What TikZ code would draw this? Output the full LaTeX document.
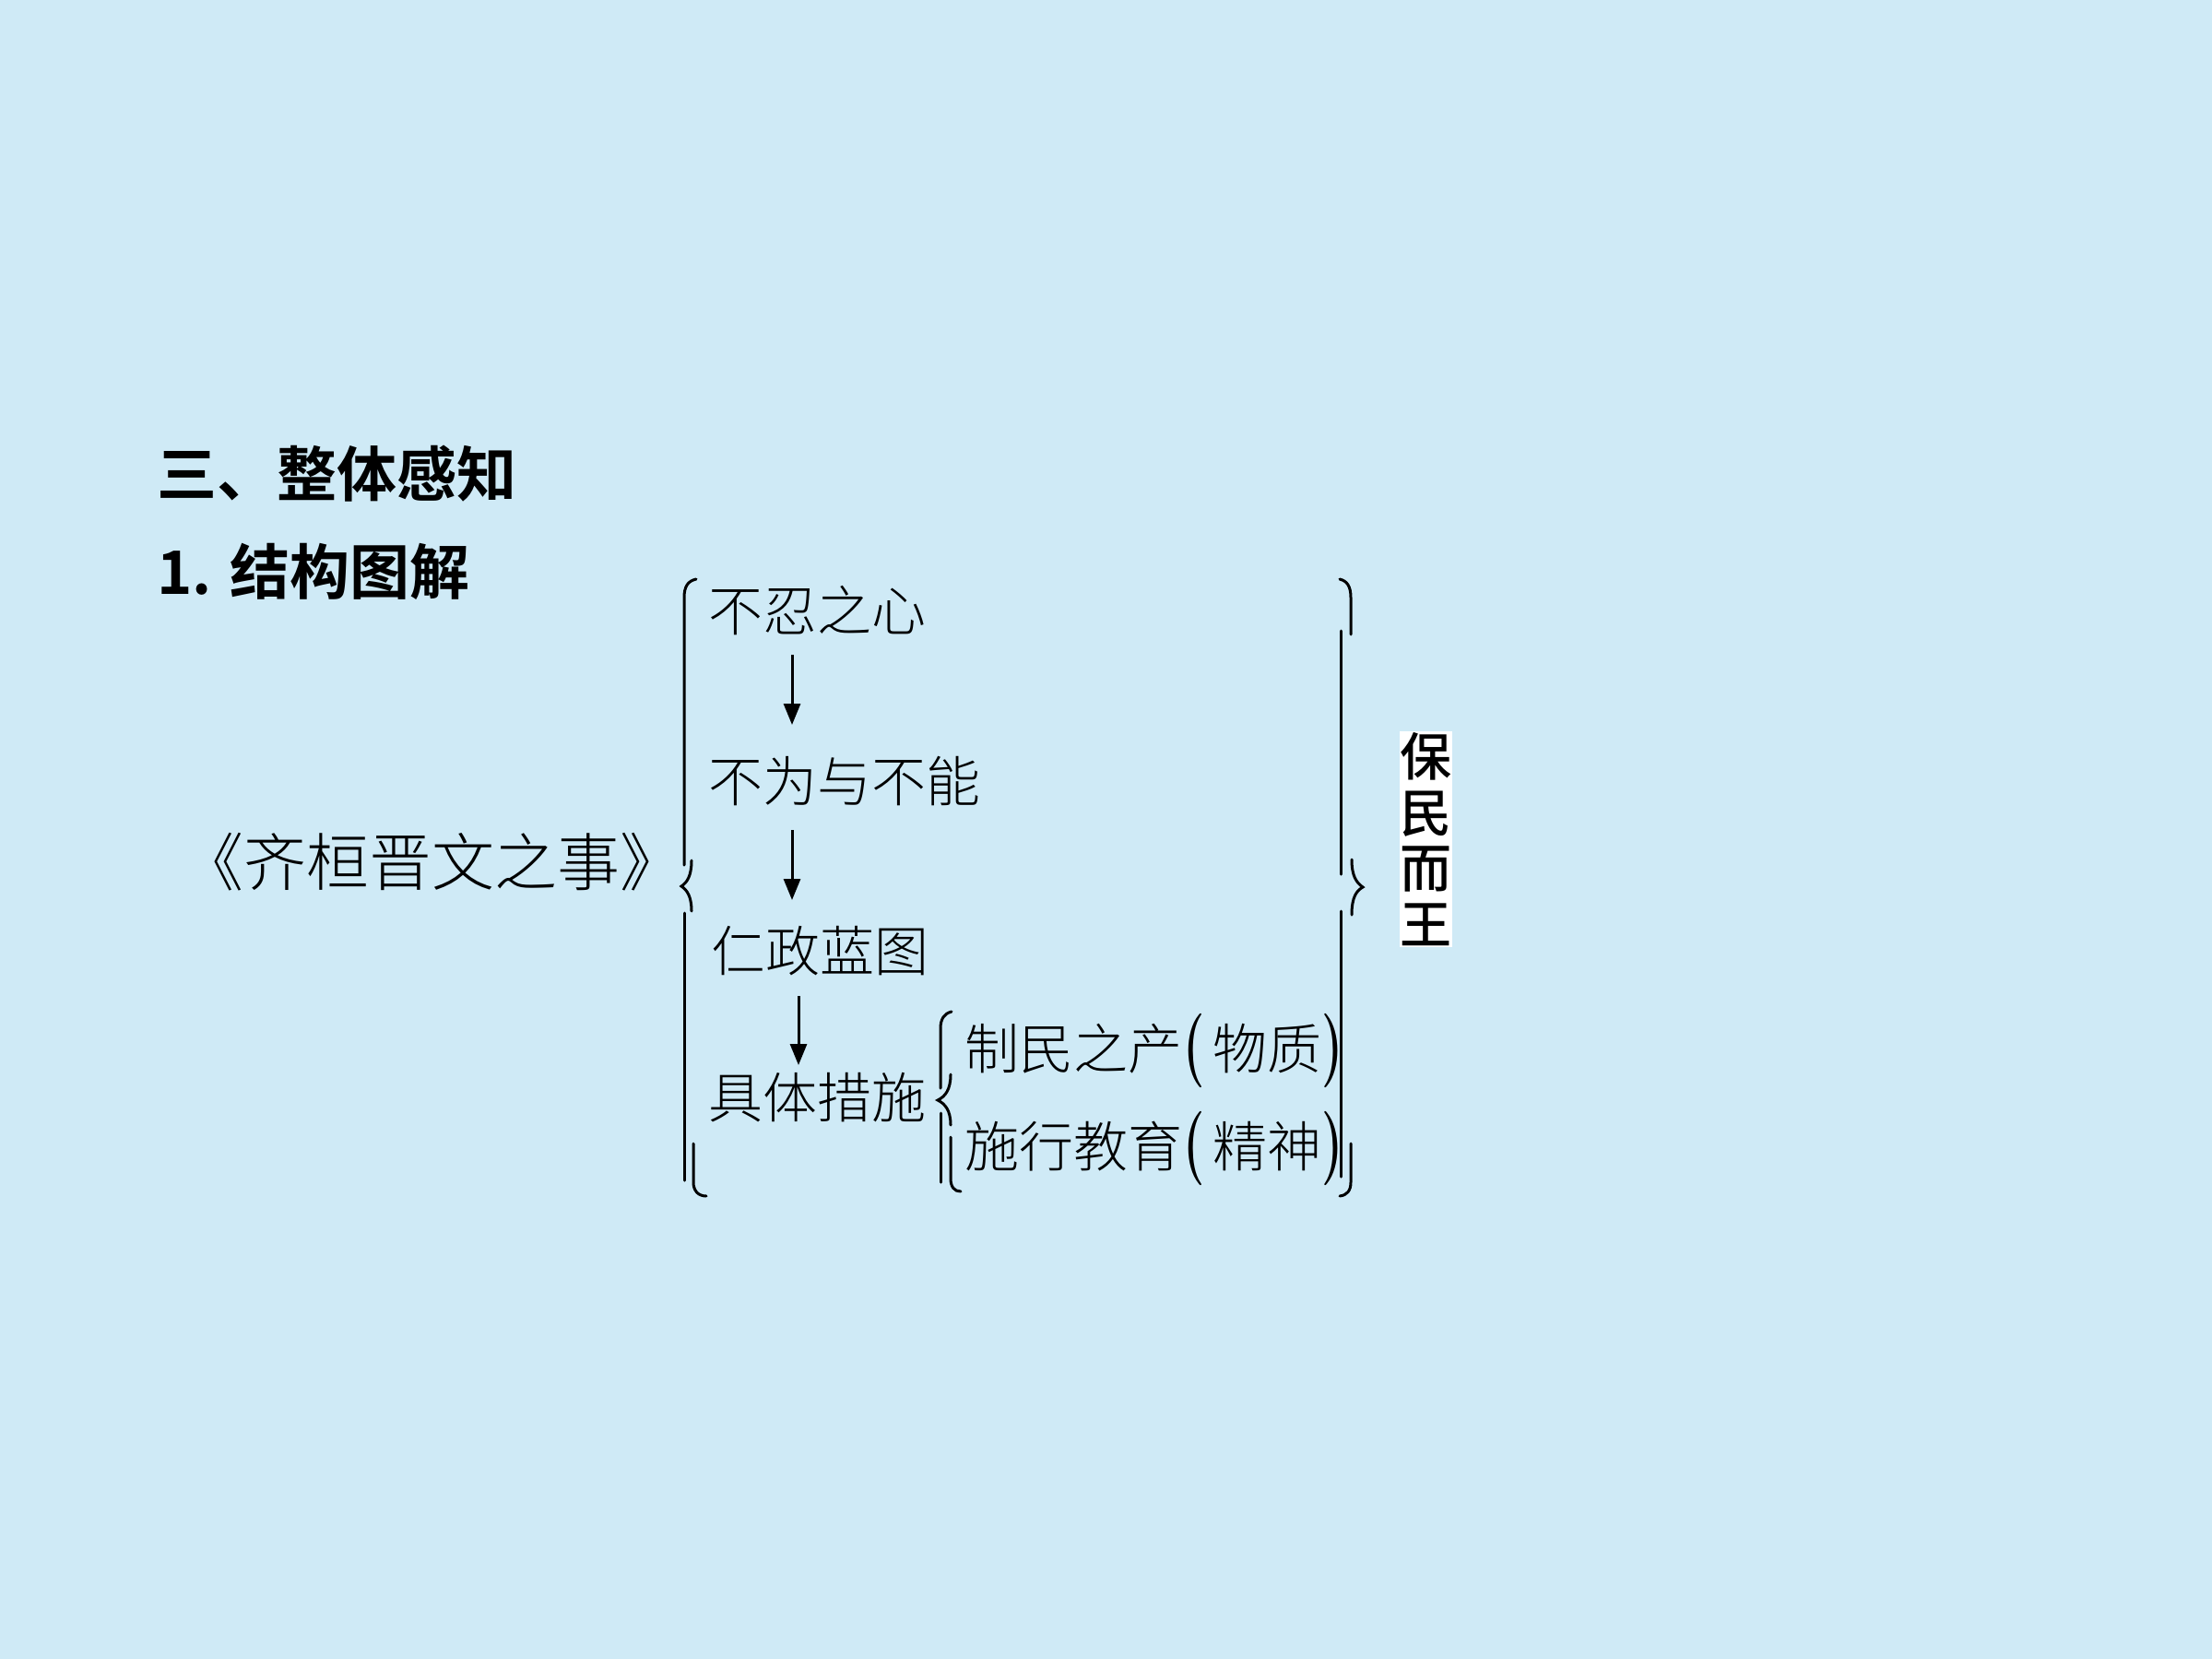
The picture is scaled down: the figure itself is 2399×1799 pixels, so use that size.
\documentclass[tikz,border=0pt]{standalone}
\usepackage{fontspec}
\usetikzlibrary{arrows.meta}
\newfontfamily\song{Noto Sans CJK SC Light}
\newfontfamily\heib{Noto Sans CJK SC Bold}
\newfontfamily\heim{Noto Sans CJK SC Medium}
\newcommand\tallp[1]{{\rmfamily\bfseries\scalebox{0.9}[1.36]{#1}}}
\definecolor{bg}{RGB}{207,234,246}
\begin{document}
\begin{tikzpicture}[x=1pt,y=-1pt,
  title/.style={inner sep=0, anchor=west, font=\heib\fontsize{65}{65}\selectfont},
  txt/.style={inner sep=0, anchor=west, font=\song\fontsize{59}{59}\selectfont},
  big/.style={inner sep=0, font=\song\fontsize{68}{68}\selectfont},
  bracepath/.style={line width=3pt, line cap=round},
  arr/.style={line width=3pt, -{Triangle[length=23pt,width=18pt]}},
  vert/.style={fill=white, inner sep=0, minimum width=57pt, minimum height=234pt, align=center, font=\heim\fontsize{56}{60.5}\selectfont}]
\useasboundingbox (0,0) rectangle (2399,1799);
\fill[bg] (0,0) rectangle (2399,1799);

% headings
\node[title] (h1) at (170,514) {三、整体感知};
\node[title] (h2) at (170,620) {1. 结构图解};

% main title
\node[big] (work) at (468,935) {《齐桓晋文之事》};

% rows
\node[txt] (t1) at (768,662) {不忍之心};
\node[txt] (t2) at (768,847) {不为与不能};
\node[txt] (t3) at (771,1031) {仁政蓝图};
\node[txt] (t4) at (768,1190) {具体措施};
\node[txt] (s1) at (1046,1137) {制民之产};
\node[txt, anchor=base west] (s1b) at (1283,1159) {\tallp{(}\hspace{9pt}物质\tallp{)}};
\node[txt] (s2) at (1046,1243) {施行教育};
\node[txt, anchor=base west] (s2b) at (1283,1265) {\tallp{(}\hspace{9pt}精神\tallp{)}};

% result
\node[vert] (res) at (1546,910) {保\\民\\而\\王};

% arrows
\coordinate (a1s) at (859,710); \coordinate (a1e) at (859,786);
\coordinate (a2s) at (859,900); \coordinate (a2e) at (859,976);
\coordinate (a3s) at (866,1080); \coordinate (a3e) at (866,1155);
\draw[arr] (a1s) -- (a1e);
\draw[arr] (a2s) -- (a2e);
\draw[arr] (a3s) -- (a3e);

% big left brace
\draw[bracepath] (755,628) .. controls (746,630) and (742,636) .. (742,648) -- (742,938);
\draw[bracepath] (750,933) .. controls (750,950) and (745,957) .. (739,961) .. controls (745,965) and (750,972) .. (750,988);
\draw[bracepath] (742,990) -- (742,1280);
\draw[bracepath] (752,1240) -- (752,1282) .. controls (752,1291) and (757,1297) .. (766,1297);

% big right brace
\draw[bracepath] (1453,628) .. controls (1461,630) and (1465,636) .. (1465,648) -- (1465,688);
\draw[bracepath] (1454,684) -- (1454,948);
\draw[bracepath] (1466,932) .. controls (1466,950) and (1471,957) .. (1478,962) .. controls (1471,966) and (1466,973) .. (1466,992);
\draw[bracepath] (1454,988) -- (1454,1276);
\draw[bracepath] (1465,1240) -- (1465,1282) .. controls (1465,1291) and (1461,1296) .. (1453,1297);

% small brace
\draw[bracepath] (1032,1097) .. controls (1024,1099) and (1020,1105) .. (1020,1115) -- (1020,1180);
\draw[bracepath] (1031,1165) .. controls (1031,1182) and (1025,1189) .. (1017,1193) .. controls (1025,1197) and (1031,1204) .. (1031,1220);
\draw[bracepath] (1020,1207) -- (1020,1282);
\draw[bracepath] (1031,1233) -- (1031,1278) .. controls (1031,1287) and (1035,1292) .. (1042,1292);
\end{tikzpicture}
\end{document}
